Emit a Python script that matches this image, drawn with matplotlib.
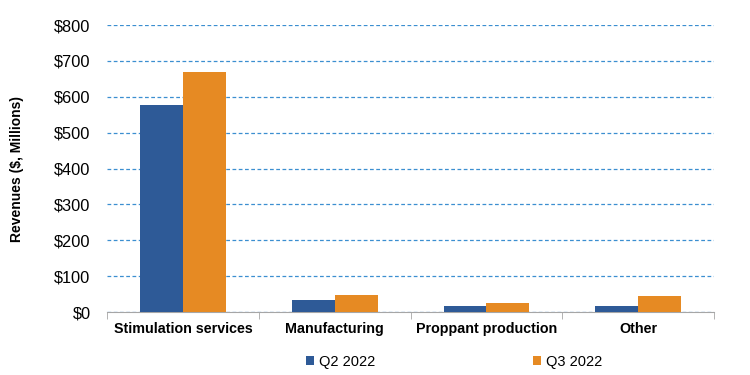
import matplotlib.pyplot as plt
import numpy as np

plt.rcParams['font.family'] = ['Liberation Sans', 'DejaVu Sans']

categories = ['Stimulation services', 'Manufacturing', 'Proppant production', 'Other']
q2_2022 = [576, 33, 17, 17]
q3_2022 = [668, 48, 24, 46]
y_ticks = [0, 100, 200, 300, 400, 500, 600, 700, 800]


def main():
    fig = plt.figure(figsize=(7.5, 3.75), dpi=100)
    ax = fig.add_axes([0.143, 0.168, 0.809, 0.765])

    x = np.arange(len(categories))
    w = 0.283
    b1 = ax.bar(x - w / 2, q2_2022, w, color='#2E5A97', label='Q2 2022', zorder=3)
    b2 = ax.bar(x + w / 2, q3_2022, w, color='#E68A23', label='Q3 2022', zorder=3)

    ax.set_xlim(-0.5, len(categories) - 0.5)
    ax.set_ylim(0, 800)
    ax.set_yticks(y_ticks)
    ax.set_yticklabels(['${}'.format(v) for v in y_ticks], fontsize=11.8)
    ax.yaxis.grid(True, linestyle=(0, (3, 2)), color='#3B8FD0', linewidth=0.9, zorder=0)
    ax.tick_params(axis='y', length=0, pad=12)

    ax.set_xticks(x)
    ax.set_xticklabels(categories, fontsize=10.3, fontweight='bold')
    ax.set_xticks(np.arange(len(categories) + 1) - 0.5, minor=True)
    ax.tick_params(axis='x', which='major', length=0, pad=7)
    ax.tick_params(axis='x', which='minor', length=5, color='#A6A6A6')

    for s in ['top', 'right', 'left']:
        ax.spines[s].set_visible(False)
    ax.spines['bottom'].set_color('#A6A6A6')

    ax.set_ylabel('Revenues ($, Millions)', fontsize=10, fontweight='bold', labelpad=22)

    fig.legend(handles=[b1, b2], loc='center', bbox_to_anchor=(0.605, 0.035),
               ncol=2, frameon=False, fontsize=10.5, handlelength=0.6,
               handleheight=0.6, handletextpad=0.3, columnspacing=10.8)

    fig.savefig('out.png', dpi=100)


if __name__ == '__main__':
    main()
